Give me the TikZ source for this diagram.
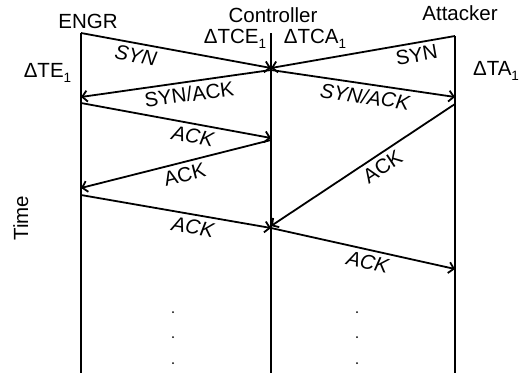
\documentclass[tikz,border=0pt]{standalone}
\usepackage{fontspec}
\setmainfont{Liberation Sans}
\usetikzlibrary{arrows.meta}
\newcommand{\subone}{\raisebox{-5pt}{\fontsize{13.5}{14}\selectfont 1}}
\begin{document}
\begin{tikzpicture}[x=1pt,y=-1pt,
  lifeline/.style={line width=2.3pt},
  msg/.style={line width=1.8pt,-{Straight Barb[length=5pt,width=11pt]}},
  txt/.style={font=\fontsize{20.5}{24}\selectfont},
  head/.style={txt, inner sep=0pt, anchor=base},
  lbl/.style={txt, sloped, below=2pt, inner sep=2pt},
  lbli/.style={lbl, font=\fontsize{20.5}{24}\selectfont\itshape},
  dotmark/.style={circle, fill, inner sep=0pt, minimum size=2pt}
]
\useasboundingbox (0,0) rectangle (529,375);

% lifelines
\coordinate (Etop) at (81,33);   \coordinate (Ebot) at (81,373);
\coordinate (Ctop) at (271,33);  \coordinate (Cbot) at (271,373);
\coordinate (Atop) at (455,36);  \coordinate (Abot) at (455,373);
\draw[lifeline] (Etop) -- (Ebot);
\draw[lifeline] (Ctop) -- (Cbot);
\draw[lifeline] (Atop) -- (Abot);

% headings and timing marks
\node[head] (engr) at (88,28) {ENGR};
\node[head] (ctrl) at (273,22) {Controller};
\node[head] (att)  at (460,20) {Attacker};
\node[head] (tce)  at (235,43) {ΔTCE\subone};
\node[head] (tca)  at (315,43) {ΔTCA\subone};
\node[head] (te)   at (47.5,77) {ΔTE\subone};
\node[head] (ta)   at (496,75) {ΔTA\subone};
\node[head, rotate=90, anchor=base] (time) at (28,218) {Time};

% event points on the lifelines
\coordinate (C1) at (271,68);
\coordinate (C2) at (271,70);
\coordinate (E2) at (81,97);
\coordinate (A2) at (455,97);
\coordinate (E3) at (81,103);
\coordinate (A3) at (455,104);
\coordinate (C3) at (271,138);
\coordinate (C4) at (271,140);
\coordinate (E4) at (81,188);
\coordinate (E5) at (81,195);
\coordinate (C5) at (271,226);
\coordinate (C6) at (271,228);
\coordinate (A6) at (455,269);

% handshake messages
\draw[msg] (Etop) -- node[lbli, pos=0.3] {SYN} (C1);
\draw[msg] (Atop) -- node[lbl, pos=0.22] {SYN} (C1);
\draw[msg] (C2) -- node[lbl, pos=0.44] {SYN/ACK} (E2);
\draw[msg] (C2) -- node[lbli, pos=0.52] {SYN/ACK} (A2);
\draw[msg] (E3) -- node[lbli, pos=0.6] {ACK} (C3);
\draw[msg] (C4) -- node[lbl, pos=0.47] {ACK} (E4);
\draw[msg] (E5) -- node[lbli, pos=0.6] {ACK} (C6);
\draw[msg] (A3) -- node[lbl, pos=0.43] {ACK} (C5);
\draw[msg] (C6) -- node[lbli, pos=0.54] {ACK} (A6);

% continuation dots
\node[dotmark] (d1) at (173,312) {};
\node[dotmark] (d2) at (173,337) {};
\node[dotmark] (d3) at (173,363) {};
\node[dotmark] (d4) at (357,312) {};
\node[dotmark] (d5) at (357,337) {};
\node[dotmark] (d6) at (357,363) {};
\end{tikzpicture}
\end{document}
